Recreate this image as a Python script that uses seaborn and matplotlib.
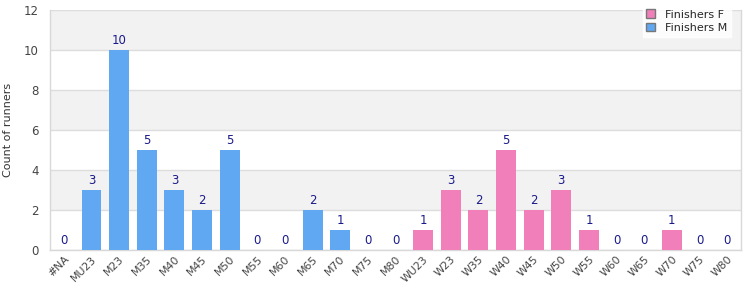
import matplotlib
matplotlib.use("Agg")
import matplotlib.pyplot as plt
import seaborn as sns
import pandas as pd
from matplotlib.patches import Patch

categories = ["#NA", "MU23", "M23", "M35", "M40", "M45", "M50", "M55", "M60", "M65",
              "M70", "M75", "M80", "WU23", "W23", "W35", "W40", "W45", "W50", "W55",
              "W60", "W65", "W70", "W75", "W80"]
counts = [0, 3, 10, 5, 3, 2, 5, 0, 0, 2, 1, 0, 0, 1, 3, 2, 5, 2, 3, 1, 0, 0, 1, 0, 0]
groups = ["Finishers M"] * 13 + ["Finishers F"] * 12
y_ticks = [0, 2, 4, 6, 8, 10, 12]

colors = {"Finishers F": "#f17fb9", "Finishers M": "#60a8f2"}

df = pd.DataFrame({"cat": categories, "count": counts, "group": groups})

sns.set_style("white")
plt.rcParams["font.family"] = ["DejaVu Sans"]

fig = plt.figure(figsize=(7.5, 3), dpi=100)
ax = fig.add_axes([50/750, 50/300, 691/750, 240/300])

# alternating bands
for i in range(len(y_ticks) - 1):
    if i % 2 == 1:
        ax.axhspan(y_ticks[i], y_ticks[i+1], color="#f2f2f2", zorder=0, lw=0)

sns.barplot(data=df, x="cat", y="count", hue="group", palette=colors, dodge=False,
            width=0.72, ax=ax, legend=False, zorder=3, saturation=1, order=categories,
            linewidth=0, edgecolor="none")

ax.set_ylim(0, 12)
ax.set_xlim(-0.5, len(categories) - 0.5)
ax.set_yticks(y_ticks)
ax.yaxis.grid(True, color="#dddddd", lw=1, zorder=1)
ax.set_axisbelow(True)
for s in ["left", "right", "bottom"]:
    ax.spines[s].set_color("#d8d8d8")
    ax.spines[s].set_linewidth(1)
ax.spines["top"].set_visible(False)

for i, v in enumerate(counts):
    ax.text(i, v + 0.15, str(v), ha="center", va="bottom", fontsize=8.5, color="#1a1a8a", zorder=5)

ax.set_xlabel("")
ax.set_ylabel("Count of runners", fontsize=8, color="#333333", labelpad=8)
ax.tick_params(axis="y", labelsize=8.5, colors="#444444", length=0, pad=8)
ax.tick_params(axis="x", labelsize=7.8, colors="#444444", length=0, pad=3)
plt.setp(ax.get_xticklabels(), rotation=45, ha="right", rotation_mode="anchor")

handles = [Patch(facecolor=colors["Finishers F"], edgecolor="#777777", label="Finishers F"),
           Patch(facecolor=colors["Finishers M"], edgecolor="#777777", label="Finishers M")]
leg = fig.legend(handles=handles, loc="upper right", bbox_to_anchor=(737/750, 1.0),
                 frameon=True, fontsize=8, handlelength=0.8, handleheight=0.8,
                 handletextpad=0.9, labelspacing=0.3, borderpad=0.35, fancybox=False)
leg.get_frame().set_facecolor("white")
leg.get_frame().set_edgecolor("white")
leg.set_zorder(10)

fig.savefig("out.png", dpi=100)
